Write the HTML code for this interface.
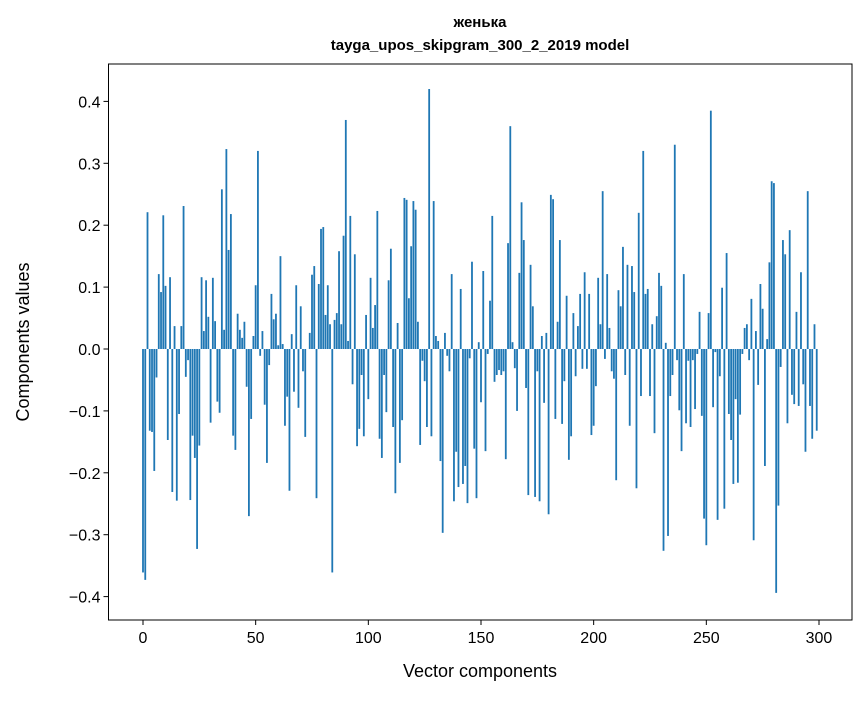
<!DOCTYPE html>
<html><head><meta charset="utf-8"><style>
body{margin:0;background:#fff;}
svg text{font-family:"Liberation Sans","DejaVu Sans",sans-serif;}
</style></head><body>
<svg id="chart" width="867" height="696" xmlns="http://www.w3.org/2000/svg">
<rect width="867" height="696" fill="#fff"/>
<text x="480" y="27" font-size="15" font-weight="bold" text-anchor="middle">женька</text>
<text x="480" y="50" font-size="15" font-weight="bold" text-anchor="middle">tayga_upos_skipgram_300_2_2019 model</text>
<g id="bars"></g>
<g id="axes"></g>
<text x="480" y="677" font-size="18" text-anchor="middle">Vector components</text>
<text x="29" y="342" font-size="18" text-anchor="middle" transform="rotate(-90 29 342)">Components values</text>
</svg>
<script>
const values = [
-0.361,-0.373,0.221,-0.132,-0.134,-0.197,-0.046,0.121,0.092,0.216,
0.102,-0.147,0.116,-0.231,0.037,-0.245,-0.105,0.037,0.231,-0.045,
-0.018,-0.244,-0.14,-0.176,-0.323,-0.156,0.116,0.029,0.111,0.052,
-0.119,0.115,0.045,-0.085,-0.103,0.258,0.031,0.323,0.16,0.218,
-0.14,-0.163,0.057,0.031,0.018,0.044,-0.061,-0.27,-0.113,0.021,
0.103,0.32,-0.011,0.029,-0.09,-0.184,-0.026,0.089,0.048,0.057,
0.006,0.15,0.008,-0.124,-0.077,-0.229,0.024,-0.069,0.103,-0.095,
0.069,-0.036,-0.142,0.0,0.026,0.12,0.134,-0.241,0.105,0.194,
0.197,0.055,0.103,0.04,-0.361,0.047,0.058,0.158,0.04,0.183,
0.37,0.013,0.215,-0.057,0.153,-0.157,-0.129,-0.042,-0.141,0.055,
-0.081,0.115,0.034,0.071,0.223,-0.145,-0.176,-0.042,-0.102,0.111,
0.162,-0.126,-0.233,0.042,-0.184,-0.115,0.244,0.241,0.082,0.166,
0.239,0.225,0.044,-0.155,-0.019,-0.052,-0.126,0.42,-0.141,0.239,
0.021,0.013,-0.181,-0.297,0.026,-0.011,-0.036,0.121,-0.246,-0.166,
-0.223,0.097,-0.218,-0.189,-0.249,-0.015,0.141,-0.161,-0.241,0.011,
-0.086,0.126,-0.165,-0.008,0.078,0.215,-0.053,-0.042,-0.034,-0.042,
-0.036,-0.178,0.171,0.36,0.011,-0.031,-0.1,0.123,0.237,0.176,
-0.063,-0.236,0.136,0.069,-0.239,-0.036,-0.246,0.021,-0.087,0.026,
-0.267,0.249,0.242,-0.113,0.044,0.176,-0.121,-0.052,0.086,-0.179,
-0.141,0.058,-0.044,0.037,0.089,-0.032,0.124,-0.032,0.089,-0.139,
-0.124,-0.06,0.115,0.04,0.255,-0.016,0.121,0.034,-0.036,-0.048,
-0.212,0.095,0.069,0.165,-0.042,0.136,-0.124,0.134,0.092,-0.225,
0.22,-0.076,0.32,0.089,0.097,-0.076,0.04,-0.136,0.053,0.123,
0.102,-0.326,0.01,-0.302,-0.076,-0.042,0.33,-0.018,-0.099,-0.165,
0.121,-0.12,-0.019,-0.126,-0.018,-0.097,-0.008,0.06,-0.108,-0.274,
-0.317,0.058,0.385,-0.094,-0.005,-0.276,-0.044,0.099,-0.258,0.155,
-0.105,-0.147,-0.218,-0.081,-0.216,-0.106,-0.008,0.034,0.04,-0.018,
0.081,-0.309,0.029,-0.058,0.105,0.065,-0.189,0.016,0.14,0.271,
0.268,-0.394,-0.253,-0.029,0.176,0.153,-0.12,0.192,-0.074,-0.089,
0.06,-0.092,0.124,-0.057,-0.166,0.255,-0.092,-0.145,0.04,-0.132
];
const xTicks = [0,50,100,150,200,250,300];
const yTicks = [-0.4,-0.3,-0.2,-0.1,0.0,0.1,0.2,0.3,0.4];
const yTickLabels = ["\u22120.4","\u22120.3","\u22120.2","\u22120.1","0.0","0.1","0.2","0.3","0.4"];

const L=108.5,R=852,T=64,B=620;
const xs=i=>143+2.2533*i;
const ys=v=>349-v*619;
const NS="http://www.w3.org/2000/svg";
const bars=document.getElementById('bars');
values.forEach((v,i)=>{
  const r=document.createElementNS(NS,'rect');
  const w=0.8*2.2533;
  r.setAttribute('x',xs(i)-w/2);
  r.setAttribute('y',Math.min(ys(v),ys(0)));
  r.setAttribute('width',w);
  r.setAttribute('height',Math.abs(ys(v)-ys(0)));
  r.setAttribute('fill','#1f77b4');
  
  
  bars.appendChild(r);
});
const ax=document.getElementById('axes');
const fr=document.createElementNS(NS,'rect');
fr.setAttribute('x',L);fr.setAttribute('y',T);fr.setAttribute('width',R-L);fr.setAttribute('height',B-T);
fr.setAttribute('fill','none');fr.setAttribute('stroke','#000');fr.setAttribute('stroke-width','1');


ax.appendChild(fr);
xTicks.forEach(t=>{
  const x=xs(t);
  const l=document.createElementNS(NS,'line');
  l.setAttribute('x1',x);l.setAttribute('x2',x);l.setAttribute('y1',B);l.setAttribute('y2',B+5);
  l.setAttribute('stroke','#000');
  
  
  ax.appendChild(l);
  const tx=document.createElementNS(NS,'text');
  tx.setAttribute('x',x);tx.setAttribute('y',B+23);tx.setAttribute('font-size','16');tx.setAttribute('text-anchor','middle');
  tx.textContent=t;
  
  
  ax.appendChild(tx);
});
yTicks.forEach((t,k)=>{
  const y=ys(t);
  const l=document.createElementNS(NS,'line');
  l.setAttribute('x1',L-5);l.setAttribute('x2',L);l.setAttribute('y1',y);l.setAttribute('y2',y);
  l.setAttribute('stroke','#000');
  
  
  ax.appendChild(l);
  const tx=document.createElementNS(NS,'text');
  tx.setAttribute('x',L-8);tx.setAttribute('y',y+6);tx.setAttribute('font-size','16');tx.setAttribute('text-anchor','end');
  tx.textContent=yTickLabels[k];
  
  
  ax.appendChild(tx);
});
</script>
</body></html>
